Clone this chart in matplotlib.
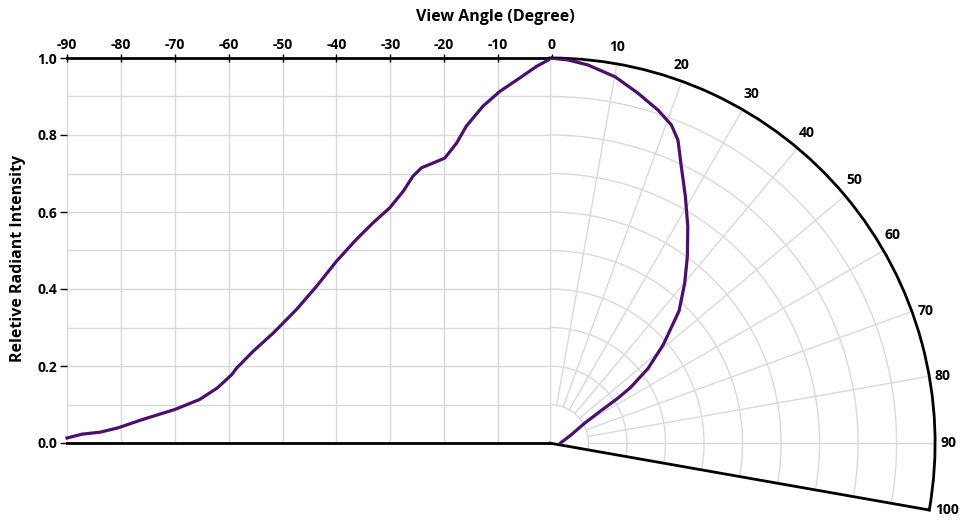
import numpy as np
import matplotlib.pyplot as plt

plt.rcParams['font.family'] = ['Open Sans', 'DejaVu Sans']
plt.rcParams['font.weight'] = 'bold'

# left half: view angle (deg) vs relative intensity
left_angle = [-90, -87.2, -83.9, -80.6, -76.0, -70.0, -65.4, -62.1, -59.4, -58.5,
              -55.4, -51.7, -47.4, -43.7, -40.0, -36.3, -33.2, -30.1, -27.6, -25.8,
              -24.2, -22.1, -19.9, -17.7, -15.9, -12.8, -9.7, -6.0, -2.9, 0]
left_value = [0.013, 0.023, 0.028, 0.039, 0.061, 0.087, 0.113, 0.143, 0.178, 0.195,
              0.239, 0.286, 0.347, 0.407, 0.472, 0.529, 0.572, 0.611, 0.654, 0.693,
              0.715, 0.727, 0.740, 0.779, 0.823, 0.875, 0.913, 0.948, 0.978, 1.0]

# right half: polar pattern (deg, relative intensity)
polar_angle = [0, 2.7, 5.7, 10.1, 14.1, 18.0, 20.9, 22.9, 25.4, 28.8, 32.5, 36.4,
               40.1, 44.3, 49.0, 52.7, 55.3, 56.5, 57.5, 60.0, 69.0, 88.0]
polar_value = [1.0, 0.996, 0.987, 0.966, 0.937, 0.909, 0.884, 0.854, 0.795, 0.730, 0.666, 0.601,
               0.543, 0.480, 0.390, 0.320, 0.256, 0.212, 0.158, 0.105, 0.058, 0.028]

x_ticks = list(range(-90, 1, 10))
y_ticks = [0.0, 0.2, 0.4, 0.6, 0.8, 1.0]
theta_ticks = list(range(10, 101, 10))

line_col = '#4b0f6e'
grid_col = '#d9d9d9'
W, H = 967, 521

fig = plt.figure(figsize=(W / 100, H / 100), dpi=100)

# ---- cartesian half ----
ax = fig.add_axes([67 / W, 78 / H, 485 / W, 385 / H])
ax.set_xlim(-90, 0)
ax.set_ylim(0, 1)
ax.xaxis.tick_top()
ax.set_xticks(x_ticks)
ax.set_xticklabels([str(t) for t in x_ticks])
ax.set_yticks(y_ticks)
ax.set_yticklabels([f'{t:.1f}' for t in y_ticks])
ax.set_yticks(np.arange(0.1, 1.0, 0.2), minor=True)
ax.grid(True, which='both', color=grid_col, lw=1)
ax.tick_params(axis='x', which='major', direction='inout', length=6, width=1, labelsize=10, pad=1)
ax.tick_params(axis='y', which='major', direction='out', length=5, width=1, labelsize=10, pad=2)
ax.tick_params(axis='y', which='minor', length=0)
for s in ['left', 'right']:
    ax.spines[s].set_visible(False)
for s in ['top', 'bottom']:
    ax.spines[s].set_linewidth(2)
    ax.spines[s].set_color('black')
ax.plot(left_angle, left_value, color=line_col, lw=2.3, clip_on=False, zorder=5)
ax.set_ylabel('Reletive Radiant Intensity', fontsize=11.5, fontweight='bold')
ax.yaxis.set_label_coords(-0.084, 0.48)
fig.text(495 / W, 1 - 17 / H, 'View Angle (Degree)', ha='center', va='center', fontsize=11.5)

# ---- polar half ----
pax = fig.add_axes([518.5 / W, 11 / H, 452 / W, 452 / H], projection='polar')
pax.set_theta_zero_location('N')
pax.set_theta_direction(-1)
pax.set_thetamin(0)
pax.set_thetamax(100)
pax.set_rlim(0, 1)
pax.grid(False)
pax.set_yticks([])
pax.set_xticks(np.deg2rad(theta_ticks))
pax.set_xticklabels([])
pax.tick_params(axis='x', direction='out', length=5, width=1)

th = np.deg2rad(np.linspace(0, 100, 200))
for r in np.arange(0.1, 0.95, 0.1):
    pax.plot(th, np.full_like(th, r), color=grid_col, lw=1)
pax.plot([0, 0], [0, 1], color=grid_col, lw=1)
for a in range(10, 100, 10):
    pax.plot([np.deg2rad(a)] * 2, [0.1, 1], color=grid_col, lw=1)

# start/end spines get re-shown on draw, so colour them instead
pax.spines['start'].set_color('none')
pax.spines['inner'].set_color('none')
pax.spines['end'].set_color('black')
pax.spines['end'].set_linewidth(2)
pax.spines['polar'].set_linewidth(2)

pax.plot(np.deg2rad(polar_angle), polar_value, color=line_col, lw=2.3, zorder=5)

for a in theta_ticks:
    if a <= 20:
        ha, va, off = 'center', 'bottom', (0, 7)
    elif a <= 60:
        ha, va, off = 'left', 'bottom', (1, 6)
    else:
        ha, va, off = 'left', 'center', (4, 0)
    pax.annotate(str(a), xy=(np.deg2rad(a), 1.0), xytext=off, textcoords='offset points',
                 ha=ha, va=va, fontsize=10, annotation_clip=False)

fig.savefig('out.png', dpi=100)
